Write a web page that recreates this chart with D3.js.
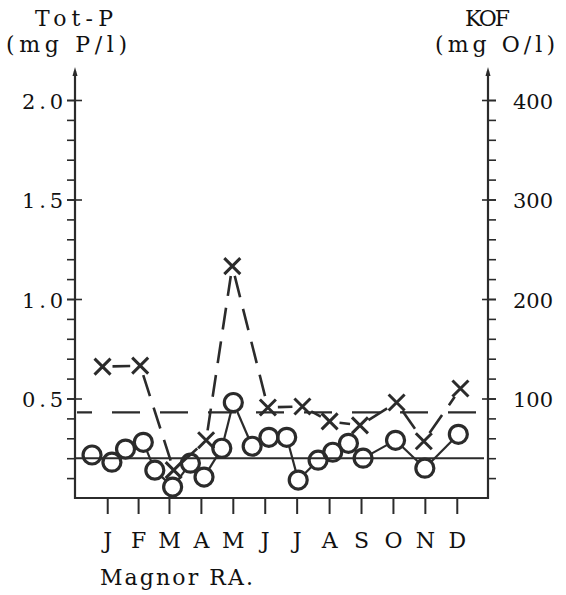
<!DOCTYPE html>
<html>
<head>
<meta charset="utf-8">
<script src="https://cdn.jsdelivr.net/npm/d3@7"></script>
<style>
  html, body { margin: 0; padding: 0; background: #fff; }
  svg { display: block; }
  text { font-family: "DejaVu Serif", "Liberation Serif", serif; fill: #111; }
</style>
</head>
<body>
<svg id="chart" width="566" height="595"></svg>
<script>
// ---- Data ----
const monthLabels = ["J","F","M","A","M","J","J","A","S","O","N","D"];
const monthMidDays = [15.5, 45, 74.5, 105, 135.5, 166, 196.5, 227.5, 258, 288.5, 319, 349.5];

// Tot-P samples (day of year, mg P/l)
const totPDays   = [1, 20, 33, 50, 61, 78, 95, 108, 125, 136, 154, 170, 187, 198, 217, 231, 246, 260, 291, 319, 351];
const totPValues = [0.216, 0.18, 0.246, 0.28, 0.14, 0.055, 0.175, 0.105, 0.25, 0.48, 0.26, 0.305, 0.305, 0.09, 0.19, 0.23, 0.275, 0.2, 0.29, 0.15, 0.32];

// KOF samples (day of year, mg O/l)
const kofDays   = [11, 47, 79, 110, 135, 169, 202, 228, 257, 292, 318, 353];
const kofValues = [132, 133, 28, 58, 233, 91, 92, 77, 73, 96, 57, 110];

// Reference levels
const totPRef = 0.2;   // solid line
const kofRef  = 86;    // dashed line

const leftMajorTicks  = [0.5, 1.0, 1.5, 2.0];
const leftMinorTicks  = d3.range(1, 21).map(d => d / 10);
const rightMajorTicks = [100, 200, 300, 400];
const rightMinorTicks = d3.range(1, 21).map(d => d * 20);

// ---- Layout ----
const svg = d3.select("#chart");
const axisLeftX = 75, axisRightX = 488, axisBottomY = 498, axisTopY = 100, arrowY = 67;
const ink = "#2b2b2b";

const x  = d3.scaleLinear().domain([0, 365]).range([91, 473]);
const yL = d3.scaleLinear().domain([0, 2]).range([axisBottomY, axisTopY]);
const yR = d3.scaleLinear().domain([0, 400]).range([axisBottomY, axisTopY]);

function clean(g) { g.select(".domain").remove(); g.attr("font-family", null); }

// Left axis ticks
svg.append("g").attr("transform", `translate(${axisLeftX},0)`)
  .call(d3.axisLeft(yL).tickValues(leftMinorTicks).tickSize(8).tickFormat(""))
  .call(clean).selectAll("line").attr("stroke", ink).attr("stroke-width", 1.6);
svg.append("g").attr("transform", `translate(${axisLeftX},0)`)
  .call(d3.axisRight(yL).tickValues(leftMajorTicks).tickSize(7).tickFormat(""))
  .call(clean).selectAll("line").attr("stroke", ink).attr("stroke-width", 1.6);
const leftLab = svg.append("g").attr("transform", `translate(${axisLeftX},0)`)
  .call(d3.axisLeft(yL).tickValues(leftMajorTicks).tickSize(8).tickPadding(4).tickFormat(d3.format(".1f")))
  .call(clean);
leftLab.selectAll("line").attr("stroke", ink).attr("stroke-width", 1.6);
leftLab.selectAll("text").attr("dy", null).attr("y", 8).attr("font-size", 21).attr("fill", "#111")
  .attr("textLength", 41).attr("lengthAdjust", "spacing");

// Right axis ticks
svg.append("g").attr("transform", `translate(${axisRightX},0)`)
  .call(d3.axisRight(yR).tickValues(rightMinorTicks).tickSize(8).tickFormat(""))
  .call(clean).selectAll("line").attr("stroke", ink).attr("stroke-width", 1.6);
svg.append("g").attr("transform", `translate(${axisRightX},0)`)
  .call(d3.axisLeft(yR).tickValues(rightMajorTicks).tickSize(6).tickFormat(""))
  .call(clean).selectAll("line").attr("stroke", ink).attr("stroke-width", 1.6);
const rightLab = svg.append("g").attr("transform", `translate(${axisRightX},0)`)
  .call(d3.axisRight(yR).tickValues(rightMajorTicks).tickSize(8).tickPadding(17).tickFormat(d3.format("d")))
  .call(clean);
rightLab.selectAll("line").attr("stroke", ink).attr("stroke-width", 1.6);
rightLab.selectAll("text").attr("dy", null).attr("y", 8).attr("font-size", 21).attr("fill", "#111")
  .attr("textLength", 40).attr("lengthAdjust", "spacing");

// Bottom axis
const bottom = svg.append("g").attr("transform", `translate(0,${axisBottomY})`)
  .call(d3.axisBottom(x).tickValues(monthMidDays).tickSize(16).tickPadding(17)
    .tickFormat((d, i) => monthLabels[i]))
  .call(clean);
bottom.selectAll("line").attr("stroke", ink).attr("stroke-width", 2);
bottom.selectAll("text").attr("dy", null).attr("y", 50).attr("font-size", 22).attr("fill", "#111");

// Axis lines with arrows
svg.append("path")
  .attr("d", `M${axisLeftX},${arrowY + 4} V${axisBottomY} H${axisRightX} V${arrowY + 4}`)
  .attr("fill", "none").attr("stroke", ink).attr("stroke-width", 2.2);
[axisLeftX, axisRightX].forEach(ax => {
  svg.append("path")
    .attr("d", `M${ax},${arrowY} L${ax - 2.5},${arrowY + 9} L${ax + 2.5},${arrowY + 9} Z`)
    .attr("fill", ink);
});

// Axis titles
function label(str, xStart, y, width, size) {
  svg.append("text").attr("x", xStart).attr("y", y).attr("font-size", size)
    .attr("textLength", width).attr("lengthAdjust", "spacing").text(str);
}
label("Tot-P", 35, 26, 78, 22);
label("(mg P/l)", 6, 52, 121, 22);
label("KOF", 465, 26, 45, 22);
label("(mg O/l)", 435, 52, 120, 22);
label("Magnor RA.", 100, 585, 153, 22);

// Reference lines
svg.append("line")
  .attr("x1", axisLeftX).attr("x2", axisRightX - 4)
  .attr("y1", yL(totPRef)).attr("y2", yL(totPRef))
  .attr("stroke", ink).attr("stroke-width", 2);
svg.append("line")
  .attr("x1", axisLeftX + 2).attr("x2", axisRightX)
  .attr("y1", yR(kofRef)).attr("y2", yR(kofRef))
  .attr("stroke", ink).attr("stroke-width", 2.2)
  .attr("stroke-dasharray", "28,20").attr("stroke-dashoffset", 13);

// Helper: trimmed segments between consecutive points
function segments(pts, r1, r2) {
  const out = [];
  for (let i = 0; i < pts.length - 1; i++) {
    const [x1, y1] = pts[i], [x2, y2] = pts[i + 1];
    const dx = x2 - x1, dy = y2 - y1, d = Math.hypot(dx, dy);
    if (d <= r1 + r2) continue;
    const ux = dx / d, uy = dy / d;
    out.push([x1 + ux * r1, y1 + uy * r1, x2 - ux * r2, y2 - uy * r2]);
  }
  return out;
}

// KOF series (dashed with X markers)
const kofPts = kofDays.map((d, i) => [x(d), yR(kofValues[i])]);
svg.append("g").selectAll("line").data(segments(kofPts, 10, 10)).join("line")
  .attr("x1", s => s[0]).attr("y1", s => s[1]).attr("x2", s => s[2]).attr("y2", s => s[3])
  .attr("stroke", ink).attr("stroke-width", 2.6).attr("stroke-dasharray", "22,12");
const xs = 8;
svg.append("g").selectAll("path").data(kofPts).join("path")
  .attr("d", p => `M${p[0] - xs},${p[1] + xs} L${p[0] + xs},${p[1] - xs} M${p[0] - xs},${p[1] - xs} L${p[0] + xs},${p[1] + xs}`)
  .attr("stroke", ink).attr("stroke-width", 3).attr("fill", "none");

// Tot-P series (solid with open circles)
const r = 9;
const totPts = totPDays.map((d, i) => [x(d), yL(totPValues[i])]);
svg.append("g").selectAll("line").data(segments(totPts, r, r)).join("line")
  .attr("x1", s => s[0]).attr("y1", s => s[1]).attr("x2", s => s[2]).attr("y2", s => s[3])
  .attr("stroke", ink).attr("stroke-width", 2.2);
svg.append("g").selectAll("circle").data(totPts).join("circle")
  .attr("cx", p => p[0]).attr("cy", p => p[1]).attr("r", r)
  .attr("fill", "none").attr("stroke", ink).attr("stroke-width", 3.2);
</script>
</body>
</html>
